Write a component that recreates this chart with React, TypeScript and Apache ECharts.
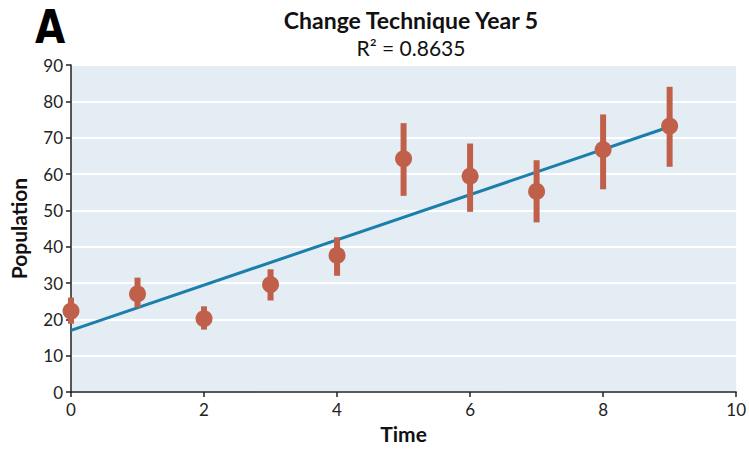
import React, { useEffect, useRef } from "react";
import * as echarts from "echarts";

const times = [0, 1, 2, 3, 4, 5, 6, 7, 8, 9];
const population = [22.3, 27.0, 20.2, 29.6, 37.6, 64.2, 59.4, 55.2, 66.7, 73.2];
const lowerBound = [18.8, 23.3, 17.2, 25.2, 32.0, 54.0, 49.6, 46.7, 55.8, 62.0];
const upperBound = [26.0, 31.5, 23.6, 33.8, 42.6, 74.0, 68.4, 63.8, 76.4, 84.0];
const trendX = [0, 9];
const trendY = [17.0, 73.0];
const titleText = "Change Technique Year 5";
const subtitleText = "R² = 0.8635";

export default function App() {
  const ref = useRef<HTMLDivElement>(null);
  useEffect(() => {
    if (!ref.current) return;
    const chart = echarts.init(ref.current, undefined, { renderer: "svg" });
    const font = "Lato";
    chart.setOption({
      animation: false,
      backgroundColor: "#ffffff",
      textStyle: { fontFamily: font },
      title: {
        text: titleText,
        subtext: subtitleText,
        left: 406,
        top: 3,
        textAlign: "center",
        itemGap: 6,
        textStyle: { fontFamily: font, fontWeight: "bold", fontSize: 23, color: "#111" },
        subtextStyle: { fontFamily: font, fontSize: 21, color: "#111" },
      },
      graphic: [
        {
          type: "text",
          x: 35,
          y: 4,
          scaleX: 0.85,
          style: { text: "A", fontFamily: "DejaVu Sans", fontWeight: "bold", fontSize: 46, fill: "#000" },
        },
      ],
      grid: {
        left: 71,
        right: 7,
        top: 65,
        bottom: 53,
        show: true,
        backgroundColor: "#e3edf3",
        borderWidth: 0,
      },
      xAxis: {
        type: "value",
        min: 0,
        max: 10,
        interval: 2,
        name: "Time",
        nameLocation: "middle",
        nameGap: 30,
        nameTextStyle: { fontFamily: font, fontWeight: "bold", fontSize: 21, color: "#111" },
        axisLine: { show: true, lineStyle: { color: "#222", width: 1.5 } },
        axisTick: { show: true, length: 5, lineStyle: { color: "#222", width: 1.5 } },
        axisLabel: { fontFamily: font, fontSize: 17, color: "#222", margin: 9 },
        splitLine: { show: false },
      },
      yAxis: {
        type: "value",
        min: 0,
        max: 90,
        interval: 10,
        name: "Population",
        nameLocation: "middle",
        nameGap: 42,
        nameRotate: 90,
        nameTextStyle: { fontFamily: font, fontWeight: "bold", fontSize: 21, color: "#111" },
        axisLine: { show: true, lineStyle: { color: "#222", width: 1.5 } },
        axisTick: { show: true, length: 5, lineStyle: { color: "#222", width: 1.5 } },
        axisLabel: { fontFamily: font, fontSize: 17, color: "#222", margin: 8 },
        splitLine: { show: true, lineStyle: { color: "#ffffff", width: 2 } },
      },
      series: [
        {
          type: "line",
          data: trendX.map((x, i) => [x, trendY[i]]),
          symbol: "none",
          lineStyle: { color: "#1b7eab", width: 3 },
          z: 3,
        },
        {
          type: "custom",
          data: times.map((t, i) => [t, lowerBound[i], upperBound[i]]),
          renderItem: (params: any, api: any) => {
            const p1 = api.coord([api.value(0), api.value(1)]);
            const p2 = api.coord([api.value(0), api.value(2)]);
            return {
              type: "line",
              shape: { x1: p1[0], y1: p1[1], x2: p2[0], y2: p2[1] },
              style: { stroke: "#c0604b", lineWidth: 6 },
            };
          },
          z: 4,
        },
        {
          type: "scatter",
          data: times.map((t, i) => [t, population[i]]),
          symbol: "circle",
          symbolSize: 17,
          itemStyle: { color: "#c0604b", opacity: 1 },
          z: 5,
        },
      ],
    });
    return () => chart.dispose();
  }, []);
  return (
    <div
      ref={ref}
      style={{ position: "fixed", left: 0, top: 0, width: 749, height: 449 }}
    />
  );
}
